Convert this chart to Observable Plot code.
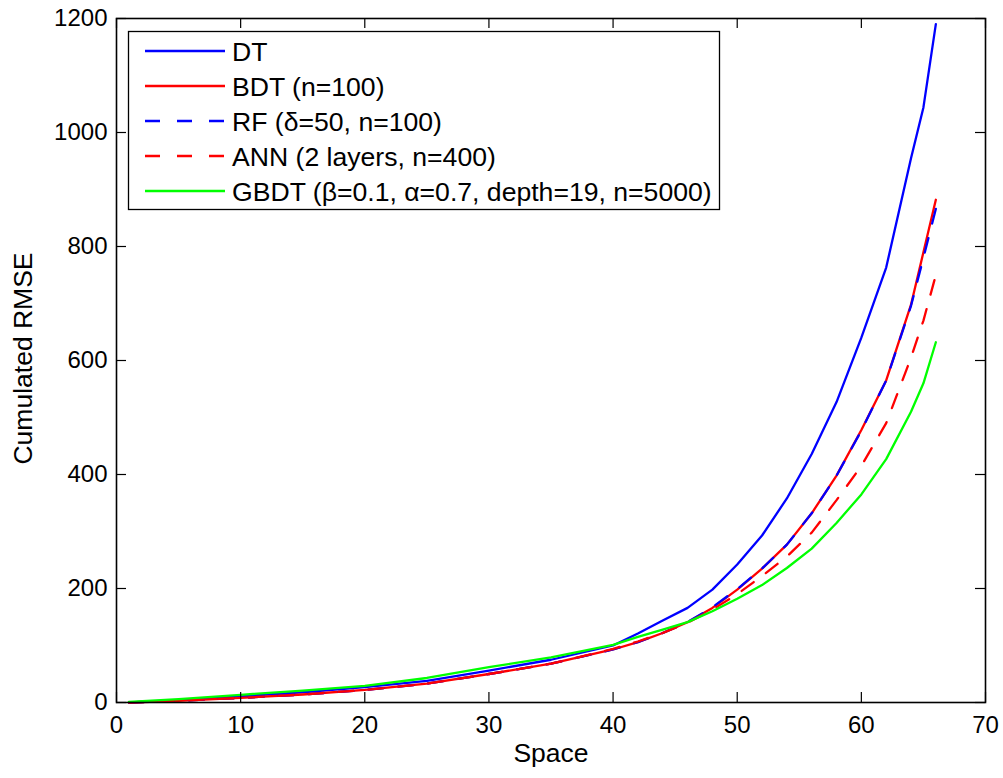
<!DOCTYPE html>
<html><head><meta charset="utf-8">
<script src="https://cdn.jsdelivr.net/npm/d3@7"></script>
<script src="https://cdn.jsdelivr.net/npm/@observablehq/plot@0.6"></script>
<style>body{margin:0;background:#fff} #chart{width:1003px;height:778px}</style>
</head><body><div id="chart"></div>
<script>
// Data
const space = [1, 5, 10, 15, 20, 25, 30, 35, 40, 42, 44, 46, 48, 50, 52, 54, 56, 58, 60, 62, 64, 65, 66];
const DT   = [0, 4, 11, 18, 27, 38, 56, 75, 100, 121, 144, 166, 198, 242, 293, 358, 436, 527, 640, 763, 955, 1044, 1190];
const BDT  = [0, 3, 8, 14, 22, 33, 50, 68, 93, 106, 122, 141, 166, 198, 235, 277, 332, 398, 478, 565, 698, 790, 882];
const RF   = [0, 3, 8, 14, 22, 33, 50, 68, 93, 106, 122, 141, 167, 199, 235, 277, 332, 398, 477, 565, 696, 780, 866];
const ANN  = [0, 3, 8, 14, 22, 33, 50, 68, 94, 107, 122, 140, 163, 190, 222, 256, 298, 355, 415, 490, 605, 670, 750];
const GBDT = [1, 6, 13.5, 21, 29, 43, 62, 79, 101, 115, 128, 141, 160, 182, 206, 236, 270, 315, 365, 427, 510, 560, 632];

const seriesNames = ["DT", "BDT (n=100)", "RF (\u03B4=50, n=100)", "ANN (2 layers, n=400)", "GBDT (\u03B2=0.1, \u03B1=0.7, depth=19, n=5000)"];
const seriesValues = [DT, BDT, RF, ANN, GBDT];
const seriesColors = ["#0000ff", "#ff0000", "#0000ff", "#ff0000", "#00ff00"];
const seriesDash = [null, null, "15,15", "15,15", null];

const xTicks = [0, 10, 20, 30, 40, 50, 60, 70];
const yTicks = [0, 200, 400, 600, 800, 1000, 1200];
const xLabel = "Space";
const yLabel = "Cumulated RMSE";

const W = 1003, H = 778, mL = 116, mR = 18, mT = 18, mB = 76;
const innerH = H - mT - mB, innerW = W - mL - mR;
const tickLen = 10;
const font = "'Liberation Sans', Arial, Helvetica, sans-serif";

const lineMarks = seriesValues.map((vals, i) =>
  Plot.line(space.map((x, j) => ({x, y: vals[j]})), {
    x: "x", y: "y", stroke: seriesColors[i], strokeWidth: 2.3,
    strokeDasharray: seriesDash[i] || undefined, strokeLinejoin: "round"
  })
);

const chart = Plot.plot({
  width: W, height: H,
  marginLeft: mL, marginRight: mR, marginTop: mT, marginBottom: mB,
  style: {fontFamily: font, background: "white", color: "black", overflow: "visible"},
  x: {domain: [0, 70]},
  y: {domain: [0, 1200]},
  marks: [
    ...lineMarks,
    // inward ticks on all four sides
    Plot.tickX(xTicks, {x: d => d, insetTop: innerH - tickLen, stroke: "black", strokeWidth: 1.2}),
    Plot.tickX(xTicks, {x: d => d, insetBottom: innerH - tickLen, stroke: "black", strokeWidth: 1.2}),
    Plot.tickY(yTicks, {y: d => d, insetRight: innerW - tickLen, stroke: "black", strokeWidth: 1.2}),
    Plot.tickY(yTicks, {y: d => d, insetLeft: innerW - tickLen, stroke: "black", strokeWidth: 1.2}),
    Plot.frame({stroke: "black", strokeWidth: 1.6}),
    Plot.axisX({ticks: xTicks, tickSize: 0, tickPadding: 13, fontSize: 24, label: null, tickFormat: d => String(d)}),
    Plot.axisY({ticks: yTicks, tickSize: 0, tickPadding: 9, fontSize: 24, label: null, tickFormat: d => String(d)}),
    Plot.text([xLabel], {text: d => d, frameAnchor: "bottom", dy: 51, fontSize: 26.5, lineAnchor: "middle", textAnchor: "middle"}),
    Plot.text([yLabel], {text: d => d, frameAnchor: "left", dx: -93, dy: -2, rotate: -90, fontSize: 26.5, lineAnchor: "middle", textAnchor: "middle"})
  ]
});
document.getElementById("chart").appendChild(chart);

// Legend box drawn inside the SVG
const svg = d3.select(chart);
const lg = svg.append("g").attr("font-family", font).attr("text-anchor", "start");
lg.append("rect").attr("x", 128.5).attr("y", 31.5).attr("width", 591).attr("height", 178)
  .attr("fill", "white").attr("stroke", "black").attr("stroke-width", 1.3);
seriesNames.forEach((name, i) => {
  const cy = 51 + 35 * i;
  lg.append("line").attr("x1", 145).attr("x2", 225).attr("y1", cy).attr("y2", cy)
    .attr("stroke", seriesColors[i]).attr("stroke-width", 2.3)
    .attr("stroke-dasharray", seriesDash[i] ? "15,17" : null);
  lg.append("text").attr("x", 232).attr("y", cy).attr("dy", "0.36em")
    .attr("text-anchor", "start")
    .attr("font-size", 26.6).attr("fill", "black").text(name);
});
</script>
</body></html>
